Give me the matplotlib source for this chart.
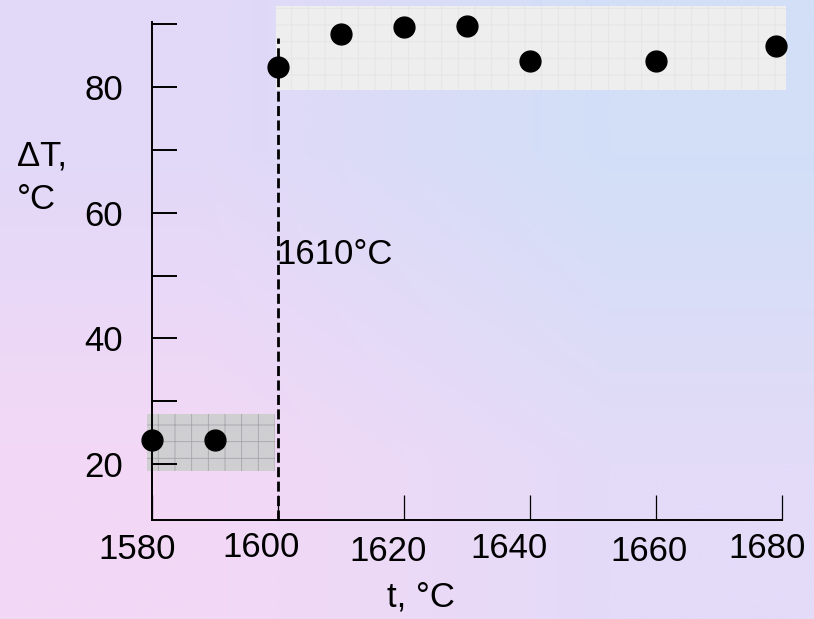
import matplotlib
matplotlib.use('Agg')
import matplotlib.pyplot as plt
import numpy as np
from matplotlib.transforms import ScaledTranslation
from matplotlib.patches import Rectangle

plt.rcParams['font.family'] = ['Liberation Sans', 'DejaVu Sans']
plt.rcParams['hatch.linewidth'] = 0.6

# data
t_vals = [1580, 1590, 1600, 1610, 1620, 1630, 1640, 1660, 1679]
dT_vals = [23.8, 23.8, 83.2, 88.4, 89.6, 89.7, 84.2, 84.1, 86.6]

x_ticks = [1580, 1600, 1620, 1640, 1660, 1680]
y_major = [20, 40, 60, 80]
y_minor = [30, 50, 70, 90]

t_split = 1600
split_label = '1610°C'
split_top = 87.8

# shaded regions: (x0, x1, y0, y1)
low_region = (1579.2, 1599.6, 18.9, 28.0)
high_region = (1599.7, 1680.7, 79.5, 92.9)

# per-label nudges (px) that mimic the hand-placed labels of the original
label_dx = [-15, -17, -16, -21, -7, -15]
label_dy = [-1.5, 0, -3.5, -0.5, -4, -0.5]

FS = 25

fig = plt.figure(figsize=(8.14, 6.19), dpi=100)

# gradient background
bg = fig.add_axes([0, 0, 1, 1], zorder=-10)
corners = np.array([[[226, 217, 248], [210, 223, 247]],
                    [[243, 216, 246], [227, 219, 248]]]) / 255.0
bg.imshow(corners, aspect='auto', interpolation='bilinear', extent=[0, 1, 0, 1])
bg.axis('off')

ax = fig.add_axes([152 / 814, 1 - 520 / 619, 630 / 814, 497.6 / 619])
ax.set_facecolor('none')
ax.set_xlim(1580, 1680)
ax.set_ylim(11.1, 90.3)

for side in ['top', 'right']:
    ax.spines[side].set_visible(False)
for side in ['left', 'bottom']:
    ax.spines[side].set_linewidth(1.4)

# textured boxes
x0, x1, y0, y1 = low_region
ax.add_patch(Rectangle((x0, y0), x1 - x0, y1 - y0, facecolor='#cfcfd2',
                       edgecolor='#a5a5aa', hatch='+', linewidth=0,
                       zorder=1, clip_on=False))
x0, x1, y0, y1 = high_region
ax.add_patch(Rectangle((x0, y0), x1 - x0, y1 - y0, facecolor='#eeeeee',
                       edgecolor='#e4e4e4', hatch='+', linewidth=0,
                       zorder=1, clip_on=False))

ax.plot([t_split, t_split], [11.1, split_top], color='black', lw=2,
        linestyle=(0, (3.6, 1.6)), zorder=2, clip_on=False)
ax.plot(t_vals, dT_vals, 'o', color='black', markersize=15, zorder=3,
        clip_on=False)

ax.text(t_split - 0.2, 53.3, split_label, fontsize=FS, ha='left', va='center')

ax.set_xticks(x_ticks)
ax.set_xticklabels([str(v) for v in x_ticks])
ax.set_yticks(y_major)
ax.set_yticks(y_minor, minor=True)
ax.tick_params(axis='x', direction='in', length=18, width=0.9, pad=8,
               labelsize=FS)
ax.tick_params(axis='y', which='both', direction='in', length=18, width=1.4,
               pad=21, labelsize=FS)

for lbl, dx, dy in zip(ax.get_xticklabels(), label_dx, label_dy):
    lbl.set_transform(lbl.get_transform() +
                      ScaledTranslation(dx / 100, dy / 100, fig.dpi_scale_trans))

fig.text(17 / 814, 1 - 156 / 619, 'ΔT,', fontsize=FS, ha='left', va='center')
fig.text(17 / 814, 1 - 199 / 619, '°C', fontsize=FS, ha='left', va='center')
fig.text(421 / 814, 1 - 597 / 619, 't, °C', fontsize=FS, ha='center',
         va='center')

fig.savefig('out.png', dpi=100)
